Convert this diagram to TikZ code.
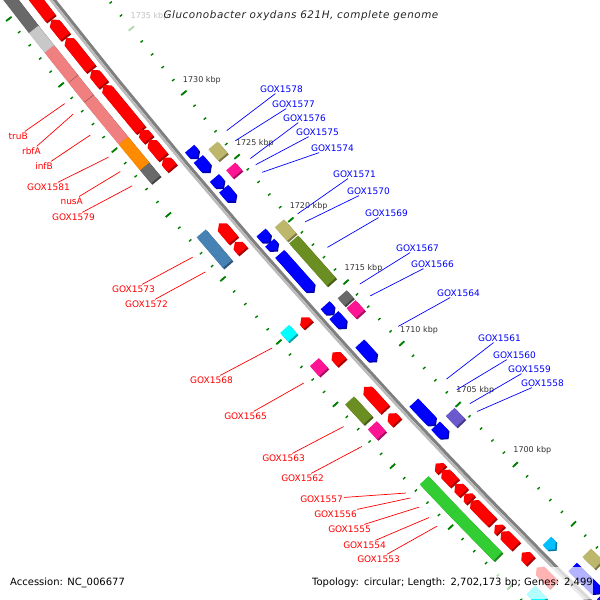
\documentclass[tikz,border=0pt]{standalone}
\usepackage{fontspec}
\setmainfont{DejaVu Sans}
\usetikzlibrary{calc}

\definecolor{rulergreen}{RGB}{0,128,0}
\definecolor{cogcoral}{RGB}{240,128,128}
\definecolor{coglight}{RGB}{200,200,200}
\definecolor{cogdim}{RGB}{105,105,105}
\definecolor{cogorange}{RGB}{255,140,0}
\definecolor{cogkhaki}{RGB}{189,183,107}
\definecolor{cogpink}{RGB}{255,20,147}
\definecolor{cogolive}{RGB}{107,142,35}
\definecolor{cogsteel}{RGB}{70,130,180}
\definecolor{cogcyan}{RGB}{0,255,255}
\definecolor{cogslate}{RGB}{106,90,205}
\definecolor{coglime}{RGB}{50,205,50}
\definecolor{genered}{RGB}{255,0,0}
\definecolor{geneblue}{RGB}{0,0,255}
\definecolor{genesky}{RGB}{0,191,255}

% angle (seen on screen) of a genome position in kbp
\newcommand{\ang}[1]{138.24+(#1-1715)*0.15}

% a plain block between two positions and two radii
\newcommand{\slab}[5]{%
  \fill[#5!65!black,shift={(1.5,1.5)}] ({\ang{#1}}:#3) -- ({\ang{#1}}:#4) -- ({\ang{#2}}:#4) -- ({\ang{#2}}:#3) -- cycle;
  \fill[#5] ({\ang{#1}}:#3) -- ({\ang{#1}}:#4) -- ({\ang{#2}}:#4) -- ({\ang{#2}}:#3) -- cycle;}

% forward gene, head at the second position
\newcommand{\fwd}[3]{%
  \pgfmathsetmacro\hb{#2-min(0.3,#2-#1)}
  \fill[#3!65!black,shift={(1.5,1.5)}] ({\ang{#1}}:6395) -- ({\ang{#1}}:6407) -- ({\ang{\hb}}:6407) -- ({\ang{#2}}:6401) -- ({\ang{\hb}}:6395) -- cycle;
  \fill[#3] ({\ang{#1}}:6395) -- ({\ang{#1}}:6407) -- ({\ang{\hb}}:6407) -- ({\ang{#2}}:6401) -- ({\ang{\hb}}:6395) -- cycle;}

% reverse gene, head at the first position
\newcommand{\rev}[3]{%
  \pgfmathsetmacro\hb{#1+min(0.3,#2-#1)}
  \fill[#3!65!black,shift={(1.5,1.5)}] ({\ang{#2}}:6369) -- ({\ang{#2}}:6381) -- ({\ang{\hb}}:6381) -- ({\ang{#1}}:6375) -- ({\ang{\hb}}:6369) -- cycle;
  \fill[#3] ({\ang{#2}}:6369) -- ({\ang{#2}}:6381) -- ({\ang{\hb}}:6381) -- ({\ang{#1}}:6375) -- ({\ang{\hb}}:6369) -- cycle;}

\newcommand{\outcog}[3]{\slab{#1}{#2}{6415}{6427}{#3}}
\newcommand{\incog}[3]{\slab{#1}{#2}{6349}{6361}{#3}}

\begin{document}
\begin{tikzpicture}[x=1pt,y=-1pt,
    minortick/.style={draw=rulergreen, line width=1.4pt},
    majortick/.style={draw=rulergreen, line width=1.8pt},
    kbp/.style={font=\fontsize{8}{9}\selectfont, text=black!80, inner sep=0pt},
    redlab/.style={font=\fontsize{9}{10}\selectfont, text=genered, anchor=east, inner sep=1pt},
    bluelab/.style={font=\fontsize{9}{10}\selectfont, text=geneblue, anchor=west, inner sep=1pt},
    redlead/.style={draw=genered, line width=0.7pt},
    bluelead/.style={draw=geneblue, line width=0.7pt},
    veil/.style={fill=white, fill opacity=0.7, text opacity=1, inner sep=0pt}
]
\useasboundingbox (0,0) rectangle (600,600);
\clip (0,0) rectangle (600,600);
\fill[white] (0,0) rectangle (600,600);

\begin{scope}[shift={(5078,-3943)}]
    % rulers
    \foreach \k in {1688,...,1746} {
        \draw[minortick] ({\ang{\k}}:6342.5) -- ({\ang{\k}}:6345.5);
        \draw[minortick] ({\ang{\k}}:6432.5) -- ({\ang{\k}}:6435.5);
    }
    \foreach \k in {1690,1695,...,1745} {
        \draw[majortick] ({\ang{\k}}:6340.5) -- ({\ang{\k}}:6347.5);
        \draw[majortick] ({\ang{\k}}:6430.5) -- ({\ang{\k}}:6437.5);
    }
    \foreach \k in {1700,1705,...,1735}
        \node[kbp] (kbp\k) at ({\ang{\k-0.1}}:6322) {\k\ kbp};

    % backbone
    \draw[line width=3pt, black!50] plot[domain=1686:1747, samples=40] ({\ang{\x}}:6386.4);
    \draw[line width=2.4pt, black!27] plot[domain=1686:1747, samples=40] ({\ang{\x}}:6389.3);

    % outer COG row
    \outcog{1738.6}{1746}{cogdim}
    \outcog{1737.1}{1738.6}{coglight}
    \outcog{1734.85}{1737.1}{cogcoral}
    \outcog{1733.35}{1734.8}{cogcoral}
    \outcog{1730.1}{1733.3}{cogcoral}
    \outcog{1728.1}{1730.1}{cogorange}
    \outcog{1727.1}{1728.1}{cogdim}
    \outcog{1721.3}{1722.9}{cogsteel}
    \outcog{1720.5}{1721.3}{cogsteel}
    \outcog{1714.65}{1715.35}{cogcyan}
    \outcog{1711.9}{1712.7}{cogpink}
    \outcog{1708.0}{1709.6}{cogolive}
    \outcog{1706.8}{1707.6}{cogpink}
    \outcog{1700.5}{1703.1}{coglime}
    \outcog{1698.3}{1700.5}{coglime}
    \outcog{1696.8}{1698.3}{coglime}
    \outcog{1693.0}{1694.0}{cogcyan}

    % forward genes
    \fwd{1738.5}{1746}{genered}
    \fwd{1737.1}{1738.4}{genered}
    \fwd{1734.65}{1737.0}{genered}
    \fwd{1733.45}{1734.55}{genered}
    \fwd{1729.95}{1733.4}{genered}
    \fwd{1729.2}{1729.95}{genered}
    \fwd{1727.85}{1729.15}{genered}
    \fwd{1727.0}{1727.8}{genered}
    \fwd{1721.35}{1722.65}{genered}
    \fwd{1720.5}{1721.2}{genered}
    \fwd{1714.6}{1715.2}{genered}
    \fwd{1711.6}{1712.4}{genered}
    \fwd{1707.8}{1709.6}{genered}
    \fwd{1706.75}{1707.45}{genered}
    \fwd{1702.85}{1703.35}{genered}
    \fwd{1701.75}{1702.8}{genered}
    \fwd{1700.95}{1701.65}{genered}
    \fwd{1700.35}{1700.85}{genered}
    \fwd{1698.5}{1700.3}{genered}
    \fwd{1697.8}{1698.25}{genered}
    \fwd{1696.5}{1697.7}{genered}
    \fwd{1695.25}{1695.95}{genered}
    \fwd{1693.3}{1694.7}{genered}

    % reverse genes
    \rev{1726.5}{1727.2}{geneblue}
    \rev{1725.4}{1726.4}{geneblue}
    \rev{1724.15}{1724.9}{geneblue}
    \rev{1723.05}{1724.05}{geneblue}
    \rev{1719.85}{1720.6}{geneblue}
    \rev{1719.2}{1719.8}{geneblue}
    \rev{1715.9}{1718.9}{geneblue}
    \rev{1714.1}{1714.8}{geneblue}
    \rev{1713.0}{1714.0}{geneblue}
    \rev{1710.3}{1711.7}{geneblue}
    \rev{1705.1}{1706.9}{geneblue}
    \rev{1704.0}{1705.0}{geneblue}
    \rev{1694.7}{1695.4}{genesky}
    \rev{1691.0}{1693.2}{geneblue}
    \rev{1689.0}{1690.8}{geneblue}

    % inner COG row
    \incog{1725.55}{1726.45}{cogkhaki}
    \incog{1724.2}{1724.8}{cogpink}
    \incog{1719.2}{1720.3}{cogkhaki}
    \incog{1715.6}{1719.0}{cogolive}
    \incog{1714.0}{1714.6}{cogdim}
    \incog{1713.0}{1713.8}{cogpink}
    \incog{1704.1}{1705.0}{cogslate}
    \incog{1692.2}{1693.2}{cogkhaki}

    % leader ends
    \coordinate (truB-e) at ({\ang{1734.0}}:6443);
    \coordinate (rbfA-e) at ({\ang{1733.2}}:6443);
    \coordinate (infB-e) at ({\ang{1731.6}}:6443);
    \coordinate (g1581-e) at ({\ang{1729.9}}:6443);
    \coordinate (nusA-e) at ({\ang{1728.8}}:6443);
    \coordinate (g1579-e) at ({\ang{1727.7}}:6443);
    \coordinate (g1573-e) at ({\ang{1722.15}}:6443);
    \coordinate (g1572-e) at ({\ang{1721.0}}:6443);
    \coordinate (g1568-e) at ({\ang{1715.0}}:6443);
    \coordinate (g1565-e) at ({\ang{1712.2}}:6443);
    \coordinate (g1563-e) at ({\ang{1708.7}}:6443);
    \coordinate (g1562-e) at ({\ang{1707.1}}:6443);
    \coordinate (g1557-e) at ({\ang{1703.3}}:6443);
    \coordinate (g1556-e) at ({\ang{1702.9}}:6443);
    \coordinate (g1555-e) at ({\ang{1702.15}}:6443);
    \coordinate (g1554-e) at ({\ang{1701.3}}:6443);
    \coordinate (g1553-e) at ({\ang{1700.6}}:6443);
    \coordinate (g1578-e) at ({\ang{1726.6}}:6335);
    \coordinate (g1577-e) at ({\ang{1725.8}}:6335);
    \coordinate (g1576-e) at ({\ang{1724.4}}:6335);
    \coordinate (g1575-e) at ({\ang{1723.9}}:6335);
    \coordinate (g1574-e) at ({\ang{1723.3}}:6335);
    \coordinate (g1571-e) at ({\ang{1720.0}}:6335);
    \coordinate (g1570-e) at ({\ang{1719.35}}:6335);
    \coordinate (g1569-e) at ({\ang{1717.3}}:6335);
    \coordinate (g1567-e) at ({\ang{1714.35}}:6335);
    \coordinate (g1566-e) at ({\ang{1713.4}}:6335);
    \coordinate (g1564-e) at ({\ang{1710.9}}:6335);
    \coordinate (g1561-e) at ({\ang{1706.6}}:6335);
    \coordinate (g1560-e) at ({\ang{1705.7}}:6335);
    \coordinate (g1559-e) at ({\ang{1704.55}}:6335);
    \coordinate (g1558-e) at ({\ang{1703.9}}:6335);
\end{scope}

% labels on the outer side
\node[redlab] (truB) at (29,136) {truB};
\node[redlab] (rbfA) at (42,151) {rbfA};
\node[redlab] (infB) at (54,166) {infB};
\node[redlab] (g1581) at (71,187) {GOX1581};
\node[redlab] (nusA) at (84,201) {nusA};
\node[redlab] (g1579) at (96,217) {GOX1579};
\node[redlab] (g1573) at (156,289) {GOX1573};
\node[redlab] (g1572) at (169,304) {GOX1572};
\node[redlab] (g1568) at (234,380) {GOX1568};
\node[redlab] (g1565) at (268,416) {GOX1565};
\node[redlab] (g1563) at (306,458) {GOX1563};
\node[redlab] (g1562) at (325,478) {GOX1562};
\node[redlab] (g1557) at (344,499) {GOX1557};
\node[redlab] (g1556) at (358,514) {GOX1556};
\node[redlab] (g1555) at (372,529) {GOX1555};
\node[redlab] (g1554) at (387,545) {GOX1554};
\node[redlab] (g1553) at (401,559) {GOX1553};

% labels on the inner side
\node[bluelab] (g1578) at (259,89) {GOX1578};
\node[bluelab] (g1577) at (271,104) {GOX1577};
\node[bluelab] (g1576) at (282,118) {GOX1576};
\node[bluelab] (g1575) at (295,132) {GOX1575};
\node[bluelab] (g1574) at (310,148) {GOX1574};
\node[bluelab] (g1571) at (332,174) {GOX1571};
\node[bluelab] (g1570) at (346,191) {GOX1570};
\node[bluelab] (g1569) at (364,213) {GOX1569};
\node[bluelab] (g1567) at (395,248) {GOX1567};
\node[bluelab] (g1566) at (410,264) {GOX1566};
\node[bluelab] (g1564) at (436,293) {GOX1564};
\node[bluelab] (g1561) at (477,338) {GOX1561};
\node[bluelab] (g1560) at (492,355) {GOX1560};
\node[bluelab] (g1559) at (507,369) {GOX1559};
\node[bluelab] (g1558) at (520,383) {GOX1558};

\foreach \n in {truB,rbfA,infB,g1581,nusA,g1579,g1573,g1572,g1568,g1565,g1563,g1562,g1557,g1556,g1555,g1554,g1553}
    \draw[redlead] (\n) -- (\n-e);
\foreach \n in {g1578,g1577,g1576,g1575,g1574,g1571,g1570,g1569,g1567,g1566,g1564,g1561,g1560,g1559,g1558}
    \draw[bluelead] (\n) -- (\n-e);

% title and footer
\node[veil, minimum width=356, minimum height=32, font=\fontsize{10.4}{12}\selectfont\itshape\addfontfeatures{LetterSpace=5}, text=black!85] (title) at (301,16) {Gluconobacter oxydans 621H, complete genome};
\node[veil, anchor=west, font=\fontsize{10}{12}\selectfont] (acc) at (10,583) {Accession: NC\_006677};
\node[veil, anchor=east, minimum height=32, text width=338, align=right, font=\fontsize{10}{12}\selectfont] (topo) at (593,583) {Topology: circular; Length: 2,702,173 bp; Genes: 2,499};
\end{tikzpicture}
\end{document}
